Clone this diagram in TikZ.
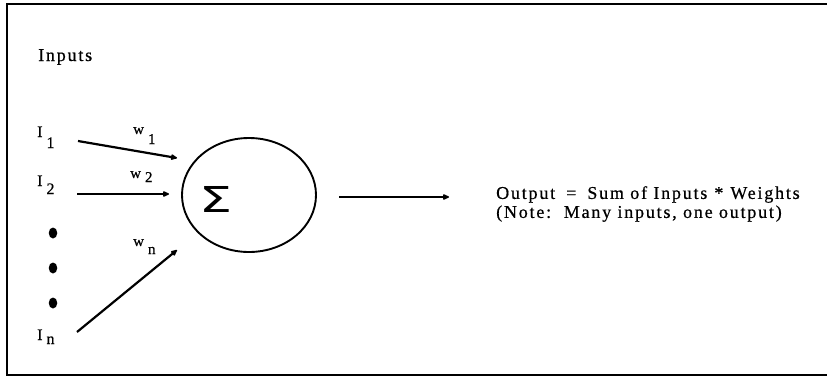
\documentclass[tikz,border=0pt]{standalone}
\usepackage{fontspec}
\usepackage{graphicx}
\setmainfont{Liberation Serif}[FakeBold=0.6]
\newfontfamily\sigfont{DejaVu Sans}
\usetikzlibrary{arrows.meta,shapes.geometric}
\newcommand\mysub[3]{#1\hspace{4pt}\raisebox{-#2}{#3}}
\begin{document}
\begin{tikzpicture}[x=1pt,y=-1pt,
  frame/.style={line width=1.8pt},
  conn/.style={line width=2.2pt,-{Latex[length=8pt,width=7pt,round]}},
  lbl/.style={inner sep=0pt,font=\fontsize{18}{19}\selectfont\addfontfeature{LetterSpace=10}},
  ilbl/.style={inner sep=0pt,anchor=base west,font=\fontsize{16}{18}\selectfont},
  wlbl/.style={inner sep=0pt,anchor=base west,font=\fontsize{15}{17}\selectfont},
  dotn/.style={ellipse,fill=black,inner sep=0pt,minimum width=8.5pt,minimum height=11pt}]
\useasboundingbox (0,0) rectangle (827,378);
\fill[white] (0,0) rectangle (827,378);
\draw[frame] (830,4) -- (7,4) -- (7,375) -- (830,375);
\node[lbl,anchor=base west] (inputs) at (38,61) {Inputs};
\node[ilbl] (i1) at (37,137) {\mysub{I}{11pt}{1}};
\node[ilbl] (i2) at (37,186) {\mysub{I}{8pt}{2}};
\node[dotn] (d1) at (53,233) {};
\node[dotn] (d2) at (53,268) {};
\node[dotn] (d3) at (53,303) {};
\node[ilbl] (in) at (37,340) {\mysub{I}{4pt}{n}};
\node[draw,ellipse,line width=1.9pt,minimum width=134pt,minimum height=114pt,inner sep=0pt] (sum) at (249,195) {};
\node[inner sep=0pt] (sig) at (216,199) {\resizebox{33pt}{26pt}{\sigfont Σ}};
\coordinate (s1) at (78,141);
\coordinate (e1) at (177,158);
\coordinate (s2) at (77,194);
\coordinate (e2) at (169,194);
\coordinate (sn) at (77,332);
\coordinate (en) at (177,250);
\draw[conn] (s1) -- (e1);
\draw[conn] (s2) -- (e2);
\draw[conn] (sn) -- (en);
\node[wlbl] (w1) at (133,134) {\mysub{w}{10pt}{1}};
\node[wlbl] (w2) at (130,178) {\mysub{w}{4pt}{2}};
\node[wlbl] (wn) at (133,246) {\mysub{w}{8pt}{n}};
\coordinate (os) at (339,197);
\coordinate (oe) at (449,197);
\draw[conn] (os) -- (oe);
\node[lbl,anchor=west,align=left] (out) at (496,204) {Output\hspace{11pt}=\hspace{11pt}Sum of Inputs\hspace{7pt}*\hspace{7pt}Weights\\(Note:\ \ Many inputs, one output)};
\end{tikzpicture}
\end{document}
